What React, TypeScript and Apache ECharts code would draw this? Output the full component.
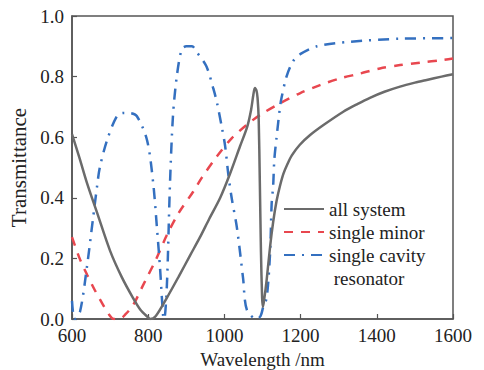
import React, { useEffect, useRef } from "react";
import * as echarts from "echarts";

// Wavelength (nm) / transmittance samples
const allSystemX = [600, 620, 639, 666, 700, 730, 760, 780, 800, 805, 820, 849, 880, 910, 936, 960, 989, 1015, 1041, 1060, 1070, 1076, 1080, 1084, 1087, 1090, 1093, 1096, 1099, 1101, 1104, 1111, 1120, 1128, 1137, 1146, 1155, 1165, 1177, 1198, 1225, 1260, 1312, 1350, 1382, 1420, 1461, 1500, 1531, 1570, 1600];
const allSystemY = [0.61, 0.53, 0.45, 0.35, 0.225, 0.14, 0.07, 0.03, 0.005, 0.0, 0.01, 0.07, 0.14, 0.21, 0.27, 0.33, 0.40, 0.48, 0.57, 0.635, 0.69, 0.74, 0.762, 0.755, 0.73, 0.66, 0.45, 0.22, 0.07, 0.04, 0.06, 0.13, 0.24, 0.32, 0.39, 0.44, 0.48, 0.51, 0.54, 0.575, 0.607, 0.64, 0.684, 0.71, 0.73, 0.75, 0.767, 0.78, 0.789, 0.80, 0.808];

const minorX = [600, 620, 640, 660, 680, 700, 710, 725, 740, 760, 786, 800, 820, 849, 880, 918, 940, 980, 1019, 1058, 1093, 1146, 1198, 1251, 1303, 1356, 1408, 1461, 1513, 1574, 1600];
const minorY = [0.27, 0.20, 0.145, 0.095, 0.05, 0.01, 0.0, 0.0, 0.015, 0.045, 0.11, 0.145, 0.195, 0.277, 0.35, 0.42, 0.465, 0.536, 0.596, 0.64, 0.673, 0.712, 0.745, 0.772, 0.794, 0.81, 0.827, 0.838, 0.846, 0.855, 0.86];

const cavityX = [600, 607, 621, 639, 655, 666, 673, 692, 718, 734, 750, 770, 797, 813, 823, 831, 839, 842, 849, 857, 865, 875, 888, 900, 915, 928, 953, 971, 980, 993, 1002, 1010, 1019, 1033, 1049, 1059, 1085, 1095, 1102, 1111, 1120, 1124, 1128, 1131, 1137, 1146, 1150, 1163, 1180, 1200, 1243, 1330, 1461, 1600];
const cavityY = [0.06, 0.0, 0.024, 0.17, 0.33, 0.44, 0.50, 0.59, 0.67, 0.68, 0.68, 0.67, 0.59, 0.45, 0.30, 0.17, 0.013, 0.0, 0.11, 0.44, 0.67, 0.80, 0.89, 0.90, 0.90, 0.88, 0.833, 0.76, 0.717, 0.635, 0.57, 0.48, 0.40, 0.30, 0.135, 0.03, 0.0, 0.01, 0.04, 0.07, 0.22, 0.38, 0.44, 0.525, 0.60, 0.70, 0.73, 0.80, 0.85, 0.875, 0.90, 0.915, 0.925, 0.927];

const seriesNames = ["all system", "single minor", "single cavity"];
const extraLegendLine = " resonator";
const xTitle = "Wavelength /nm";
const yTitle = "Transmittance";

const FONT = "Liberation Serif";
const AXIS = "#555555";

const pairs = (xs: number[], ys: number[]) => xs.map((x, i) => [x, ys[i]]);

export default function App() {
  const ref = useRef<HTMLDivElement>(null);
  useEffect(() => {
    if (!ref.current) return;
    const chart = echarts.init(ref.current, null, { renderer: "svg" });
    chart.setOption({
      animation: false,
      backgroundColor: "#ffffff",
      grid: {
        left: 72,
        right: 31,
        top: 16,
        bottom: 51,
        outerBoundsMode: "none",
        containLabel: false,
        show: true,
        borderColor: AXIS,
        borderWidth: 1.5,
        backgroundColor: "transparent",
      },
      legend: {
        orient: "vertical",
        left: 283,
        top: 199,
        padding: 0,
        itemWidth: 40,
        itemHeight: 14,
        itemGap: 3,
        data: seriesNames,
        itemStyle: { opacity: 0 },
        textStyle: { fontFamily: FONT, fontSize: 19, color: "#222", lineHeight: 20 },
      },
      graphic: [
        {
          type: "text",
          left: 329,
          top: 269,
          style: { text: extraLegendLine, fontFamily: FONT, fontSize: 19, fill: "#222" },
        },
      ],
      xAxis: {
        type: "value",
        min: 600,
        max: 1600,
        interval: 200,
        name: xTitle,
        nameLocation: "middle",
        nameGap: 27,
        nameTextStyle: { fontFamily: FONT, fontSize: 19, color: "#222", lineHeight: 20 },
        axisLine: { show: true, lineStyle: { color: AXIS, width: 1.5 } },
        axisTick: { show: true, inside: true, length: 5, lineStyle: { color: AXIS, width: 1.2 } },
        axisLabel: {
          fontFamily: FONT,
          fontSize: 19,
          color: "#222",
          margin: 7,
          formatter: (v: number) => String(v),
        },
        splitLine: { show: false },
      },
      yAxis: {
        type: "value",
        min: 0,
        max: 1,
        interval: 0.2,
        name: yTitle,
        nameLocation: "middle",
        nameGap: 33,
        nameTextStyle: { fontFamily: FONT, fontSize: 21, color: "#222" },
        axisLine: { show: true, lineStyle: { color: AXIS, width: 1.5 } },
        axisTick: { show: true, inside: true, length: 5, lineStyle: { color: AXIS, width: 1.2 } },
        axisLabel: {
          fontFamily: FONT,
          fontSize: 19,
          color: "#222",
          margin: 8,
          formatter: (v: number) => v.toFixed(1),
        },
        splitLine: { show: false },
      },
      series: [
        {
          name: seriesNames[0],
          type: "line",
          data: pairs(allSystemX, allSystemY),
          symbol: "none",
          smooth: 0.3,
          z: 3,
          lineStyle: { color: "#6b6b6b", width: 2.5, type: "solid" },
          itemStyle: { color: "#6b6b6b" },
        },
        {
          name: seriesNames[1],
          type: "line",
          data: pairs(minorX, minorY),
          symbol: "none",
          smooth: 0.3,
          z: 2,
          lineStyle: { color: "#e8474f", width: 2.5, type: [9, 8] },
          itemStyle: { color: "#e8474f" },
        },
        {
          name: seriesNames[2],
          type: "line",
          data: pairs(cavityX, cavityY),
          symbol: "none",
          smooth: 0.3,
          z: 2,
          lineStyle: { color: "#3470c0", width: 2.5, type: [11, 7, 2, 7] },
          itemStyle: { color: "#3470c0" },
        },
      ],
    });
    return () => chart.dispose();
  }, []);
  return (
    <div
      ref={ref}
      style={{ position: "fixed", left: 0, top: 0, width: 484, height: 370, background: "#fff" }}
    />
  );
}
